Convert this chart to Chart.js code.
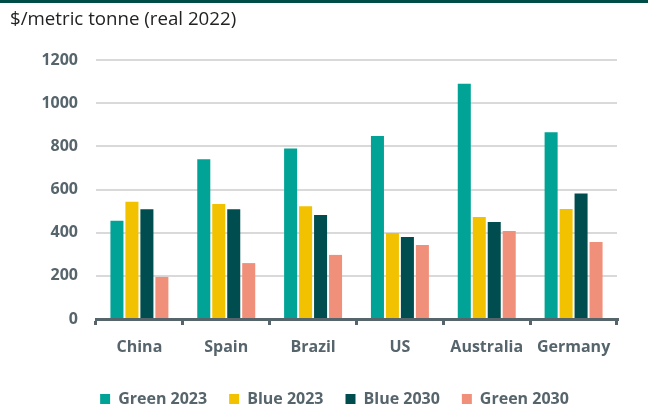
<!DOCTYPE html>
<html>
<head>
<meta charset="utf-8">
<script src="https://cdn.jsdelivr.net/npm/chart.js@4.4.1/dist/chart.umd.min.js"></script>
<style>
  body { margin: 0; background: #fff; }
  #wrap { position: relative; width: 648px; height: 409px; }
  #topbar { position: absolute; left: 0; top: 0; width: 648px; height: 3px; background: #004D47; }
  #unit { position: absolute; left: 10px; top: 5px; font: 18.7px "Open Sans", sans-serif; color: #222; }
  canvas { position: absolute; left: 0; top: 0; }
</style>
</head>
<body>
<div id="wrap">
  <canvas id="chart" width="648" height="409"></canvas>
  <div id="topbar"></div>
  <div id="unit">$/metric tonne (real 2022)</div>
</div>
<script>
// data
const countries = ['China', 'Spain', 'Brazil', 'US', 'Australia', 'Germany'];
const green2023 = [455, 740, 790, 848, 1090, 865];
const blue2023 = [543, 533, 522, 398, 473, 510];
const blue2030 = [508, 508, 482, 380, 449, 582];
const green2030 = [195, 259, 297, 343, 408, 357];
const yTicks = [0, 200, 400, 600, 800, 1000, 1200];

const grey = '#56646C';
const font = { family: '"Open Sans", sans-serif', size: 16, weight: 'bold' };

function ds(label, data, color) {
    return {
        label: label,
        data: data,
        backgroundColor: color,
        borderWidth: 0,
        categoryPercentage: 0.69,
        barPercentage: 0.87
    };
}

// legend sits a bit right of the canvas centre in the original
const shiftLegend = {
    id: 'shiftLegend',
    afterLayout(chart) {
        chart.legend.left += 52;
    }
};

new Chart(document.getElementById('chart').getContext('2d'), {
    type: 'bar',
    data: {
        labels: countries,
        datasets: [
            ds('Green 2023', green2023, '#00A396'),
            ds('Blue 2023', blue2023, '#F2C200'),
            ds('Blue 2030', blue2030, '#004D4F'),
            ds('Green 2030', green2030, '#F0907A')
        ]
    },
    options: {
        responsive: false,
        animation: false,
        layout: { padding: { left: 0, right: 31, top: 60, bottom: -8 } },
        plugins: {
            tooltip: { enabled: false },
            legend: {
                position: 'bottom',
                labels: {
                    color: grey,
                    font: font,
                    boxWidth: 10,
                    boxHeight: 10,
                    padding: 22
                }
            }
        },
        scales: {
            x: {
                grid: {
                    offset: true,
                    drawOnChartArea: false,
                    drawTicks: true,
                    tickLength: 6,
                    color: grey,
                    lineWidth: 3
                },
                border: { display: true, color: grey, width: 3 },
                ticks: { color: grey, font: font, padding: 13 },
                afterFit: function (scale) { scale.height = 50; }
            },
            y: {
                min: 0,
                max: 1200,
                afterBuildTicks: function (scale) {
                    scale.ticks = yTicks.map(v => ({ value: v }));
                },
                grid: { color: '#D9D9D9', lineWidth: 2, drawTicks: false },
                border: { display: false },
                ticks: { color: grey, font: font, padding: 18, callback: v => String(v) },
                afterFit: function (scale) { scale.width = 96; }
            }
        }
    },
    plugins: [shiftLegend]
});
</script>
</body>
</html>
